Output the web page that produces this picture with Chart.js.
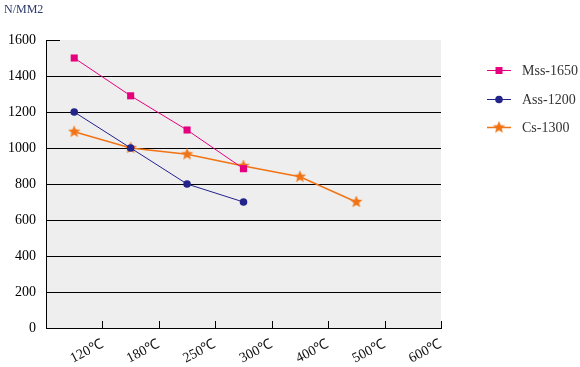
<!DOCTYPE html>
<html><head><meta charset="utf-8">
<script src="https://cdn.jsdelivr.net/npm/chart.js@4.4.1/dist/chart.umd.min.js"></script>
<style>html,body{margin:0;padding:0;background:#fff;}#wrap{position:relative;width:580px;height:367px;}</style>
</head><body>
<div id="wrap"><canvas id="c" width="580" height="367"></canvas></div>
<script>
const categories = ['120℃','180℃','250℃','300℃','400℃','500℃','600℃'];
const seriesNames = ['Mss-1650','Ass-1200','Cs-1300'];
const mssValues = [1500, 1290, 1100, 885];
const assValues = [1200, 1000, 800, 700];
const csValues = [1090, 1000, 965, 900, 840, 700];
const yMin = 0, yMax = 1600, yStep = 200;
const yUnit = 'N/MM2';

const colors = ['#e6007e', '#23238c', '#f07314'];

function makeStar(color, R, r) {
  const s = Math.ceil(R * 2 + 2);
  const cv = document.createElement('canvas');
  cv.width = s; cv.height = s;
  const g = cv.getContext('2d');
  g.beginPath();
  for (let i = 0; i < 10; i++) {
    const rad = i % 2 === 0 ? R : r;
    const a = -Math.PI / 2 + i * Math.PI / 5;
    const px = s / 2 + rad * Math.cos(a), py = s / 2 + rad * Math.sin(a);
    if (i === 0) g.moveTo(px, py); else g.lineTo(px, py);
  }
  g.closePath();
  g.fillStyle = color; g.fill();
  g.strokeStyle = 'rgba(240,140,60,0.6)'; g.lineWidth = 0.8; g.stroke();
  return cv;
}
const starImg = makeStar(colors[2], 6, 2.7);

const toPts = arr => arr.map((v, i) => ({x: i + 0.5, y: v}));

const deco = {
  id: 'deco',
  beforeDraw(chart) {
    const {ctx, chartArea: a} = chart;
    ctx.save();
    ctx.fillStyle = '#eeeeee';
    ctx.fillRect(a.left, a.top, a.right - a.left, a.bottom - a.top);
    ctx.restore();
  },
  beforeDatasetsDraw(chart) {
    const {ctx, chartArea: a, scales} = chart;
    ctx.save();
    ctx.strokeStyle = '#000'; ctx.lineWidth = 1;
    ctx.beginPath();
    categories.forEach((c, i) => {
      const x = Math.round(scales.x.getPixelForValue(i + 1)) + 0.5;
      ctx.moveTo(x, a.bottom); ctx.lineTo(x, a.bottom - 7);
    });
    const yt = Math.round(scales.y.getPixelForValue(yMax)) + 0.5;
    ctx.moveTo(a.left, yt); ctx.lineTo(a.left + 14, yt);
    ctx.stroke();
    ctx.restore();
  },
  afterDraw(chart) {
    const {ctx} = chart;
    ctx.save();
    ctx.fillStyle = '#2c3b6b';
    ctx.font = '12px "Liberation Serif", serif';
    ctx.textBaseline = 'alphabetic';
    ctx.fillText(yUnit, 4, 13);
    const ys = [70, 99, 127];
    chart.data.datasets.forEach((ds, i) => {
      const y = ys[i];
      ctx.strokeStyle = ds.borderColor; ctx.lineWidth = ds.borderWidth;
      ctx.beginPath(); ctx.moveTo(487, y + 0.5); ctx.lineTo(511, y + 0.5); ctx.stroke();
      ctx.fillStyle = ds.borderColor;
      if (i === 0) ctx.fillRect(495.5, y - 3, 7, 7);
      else if (i === 1) { ctx.beginPath(); ctx.arc(499, y + 0.5, 3.8, 0, Math.PI * 2); ctx.fill(); }
      else ctx.drawImage(starImg, 499 - starImg.width / 2, y + 0.5 - starImg.height / 2);
      ctx.fillStyle = '#333';
      ctx.font = '14px "Liberation Serif", serif';
      ctx.textBaseline = 'middle';
      ctx.fillText(ds.label, 522, y + 1);
    });
    ctx.restore();
  }
};

new Chart(document.getElementById('c'), {
  type: 'line',
  data: {
    datasets: [
      {label: seriesNames[0], data: toPts(mssValues), borderColor: colors[0], backgroundColor: colors[0], borderWidth: 1, pointStyle: 'rect', pointRadius: 5, pointBorderWidth: 0, tension: 0},
      {label: seriesNames[1], data: toPts(assValues), borderColor: colors[1], backgroundColor: colors[1], borderWidth: 1, pointStyle: 'circle', pointRadius: 3.8, pointBorderWidth: 0, tension: 0},
      {label: seriesNames[2], data: toPts(csValues), borderColor: colors[2], backgroundColor: colors[2], borderWidth: 1.5, pointStyle: starImg, pointRadius: 6, tension: 0}
    ]
  },
  options: {
    responsive: false,
    animation: false,
    events: [],
    layout: {padding: {left: 0, top: 40, right: 139, bottom: 0}},
    plugins: {legend: {display: false}, tooltip: {enabled: false}},
    scales: {
      x: {
        type: 'linear', min: 0, max: categories.length,
        afterBuildTicks: s => { s.ticks = categories.map((c, i) => ({value: i + 1})); },
        afterFit: s => { s.height = 39; },
        grid: {drawOnChartArea: false, drawTicks: false},
        border: {display: true, color: '#000', width: 1},
        ticks: {
          autoSkip: false, minRotation: 27, maxRotation: 27, padding: 8,
          color: '#111', font: {family: '"Liberation Serif", serif', size: 14},
          callback: v => categories[v - 1] || ''
        }
      },
      y: {
        min: yMin, max: yMax,
        afterFit: s => { s.width = 46; },
        grid: {color: c => (c.tick && c.tick.value === yMax) ? 'rgba(0,0,0,0)' : '#000', lineWidth: 1, drawTicks: false},
        border: {display: true, color: '#000', width: 1},
        ticks: {stepSize: yStep, padding: 10, color: '#000', font: {family: '"Liberation Serif", serif', size: 14},
          callback: v => String(v)}
      }
    }
  },
  plugins: [deco]
});
</script>
</body></html>
